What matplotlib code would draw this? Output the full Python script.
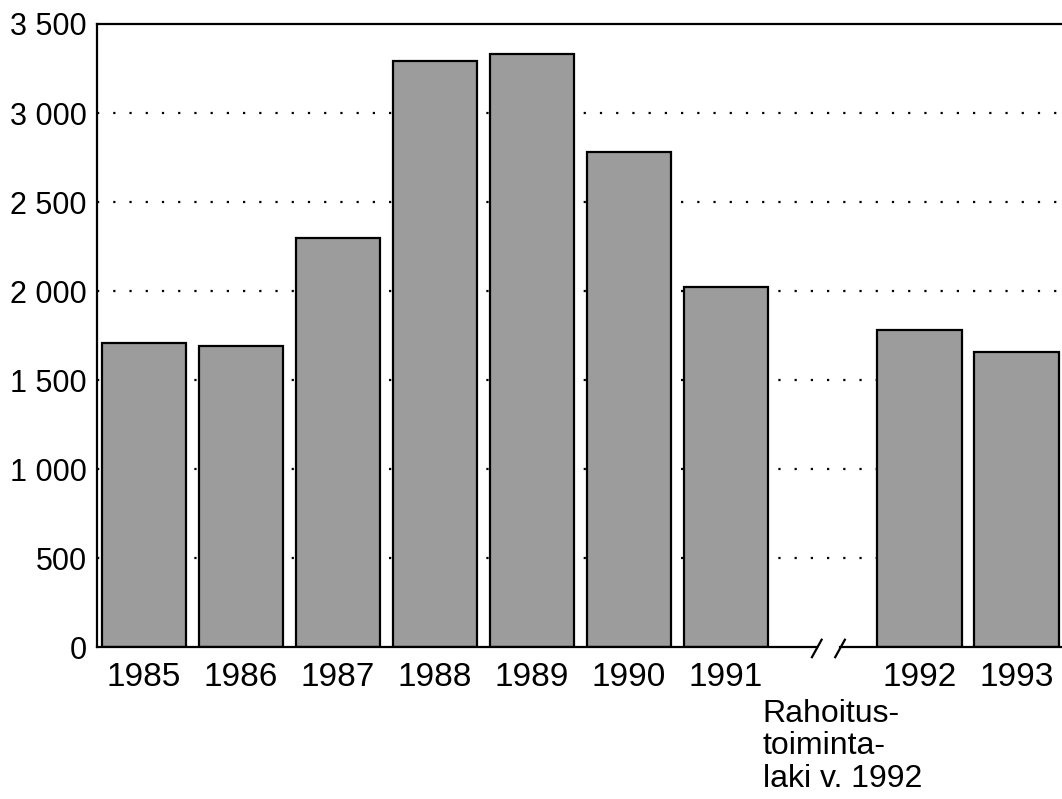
import matplotlib
matplotlib.use("Agg")
import matplotlib.pyplot as plt
from matplotlib.ticker import FuncFormatter, MultipleLocator

plt.rcParams['font.family'] = ['Liberation Sans', 'DejaVu Sans']

# data
years = ["1985", "1986", "1987", "1988", "1989", "1990", "1991", "1992", "1993"]
values = [1710, 1690, 2300, 3290, 3330, 2780, 2025, 1780, 1655]
# gap between 1991 and 1992 (law change)
positions = [0, 1, 2, 3, 4, 5, 6, 8, 9]
note = "Rahoitus-\ntoiminta-\nlaki v. 1992"

fig = plt.figure(figsize=(10.62, 7.99), dpi=100)
ax = fig.add_axes([0.091, 0.19, 0.909, 0.78])

# dotted grid behind the bars
for yv in range(500, 3500, 500):
    ax.axhline(yv, color="black", linewidth=1.6, linestyle=(0, (1, 6.3)), zorder=0)

ax.bar(positions, values, width=0.87, color="#9c9c9c", edgecolor="black",
       linewidth=1.6, zorder=2)

ax.set_xlim(-0.49, 9.47)
ax.set_ylim(0, 3500)
ax.yaxis.set_major_locator(MultipleLocator(500))
ax.yaxis.set_major_formatter(FuncFormatter(lambda v, p: f"{int(v):,}".replace(",", " ")))
ax.set_xticks(positions)
ax.set_xticklabels(years)
ax.tick_params(axis="y", length=0, pad=7, labelsize=22)
ax.tick_params(axis="x", length=0, pad=11, labelsize=24)

ax.spines["right"].set_visible(False)
ax.spines["bottom"].set_visible(False)
ax.spines["left"].set_linewidth(1.6)
ax.spines["top"].set_linewidth(1.6)

# broken x axis line
tr = ax.get_xaxis_transform()
b1, b2 = 6.94, 7.18
ax.plot([-0.49, b1], [0, 0], color="black", lw=1.6, transform=tr, clip_on=False, zorder=3)
ax.plot([b2, 9.47], [0, 0], color="black", lw=1.6, transform=tr, clip_on=False, zorder=3)
for b in (b1, b2):
    ax.plot([b - 0.05, b + 0.05], [-0.016, 0.012], color="black", lw=1.6,
            transform=tr, clip_on=False, zorder=3)

fig.text(0.718, 0.006, note, fontsize=23, ha="left", va="bottom", linespacing=1.12)

fig.savefig("out.png", dpi=100)
